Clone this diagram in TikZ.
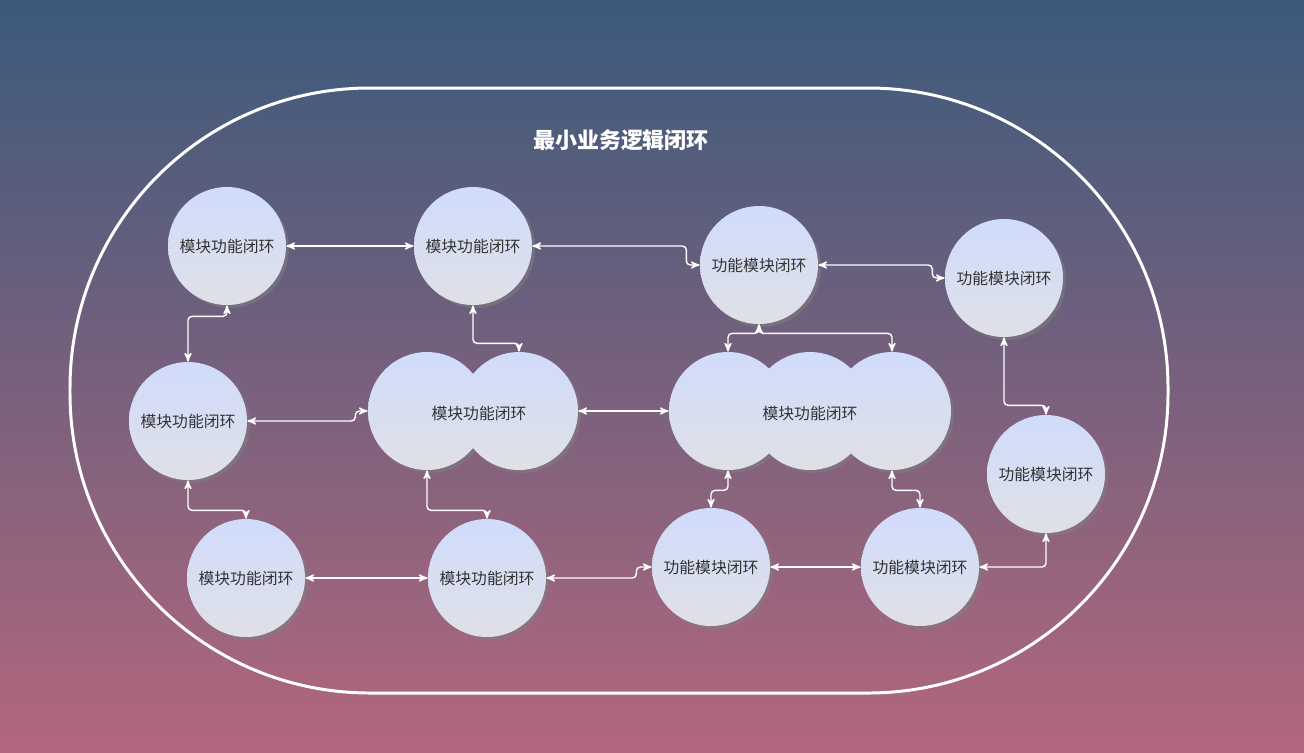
\documentclass[tikz,border=0pt]{standalone}
\usepackage{fontspec}
\newfontfamily\cjk{Noto Sans CJK SC}
\usetikzlibrary{shapes,arrows,shadows}
\definecolor{bgtop}{HTML}{3B5A7C}
\definecolor{bgbot}{HTML}{B3677E}
\definecolor{ctop}{HTML}{D0DCFC}
\definecolor{cbot}{HTML}{E0E0E6}
\definecolor{ctext}{HTML}{333333}
\tikzset{
	loop/.style={circle, minimum size=2.36cm, inner sep=0pt, top color=ctop, bottom color=cbot,
		drop shadow={shadow xshift=0.06cm, shadow yshift=-0.06cm, opacity=0.5},
		font=\cjk\fontsize{9}{10}\selectfont, text=ctext},
	lbl/.style={font=\cjk\fontsize{9}{10}\selectfont, text=ctext},
	link/.style={<->, >=stealth', white, thick, rounded corners=0.08cm}
}
\begin{document}
\begin{tikzpicture}[x=0.02cm, y=-0.02cm]
		\shade[top color=bgtop, bottom color=bgbot] (0,0) rectangle (1304,752);
		\useasboundingbox (0,0) rectangle (1304,752);
		\draw[white, line width=1.7pt, rounded corners=6cm] (70,88) rectangle (1168,693);
		\node[white, font=\cjk\bfseries\fontsize{12.5}{14}\selectfont] (title) at (621,140) {最小业务逻辑闭环};
		% top row
		\node[loop] (a1) at (227,246) {模块功能闭环};
		\node[loop] (a2) at (473,246) {模块功能闭环};
		\node[loop] (a3) at (759,265) {功能模块闭环};
		\node[loop] (a4) at (1004,278) {功能模块闭环};
		% middle row
		\node[loop] (b1) at (188,421) {模块功能闭环};
		\node[loop] (b2a) at (427,411) {};
		\node[loop] (b2b) at (519,411) {};
		\node[lbl] (b2) at (479,413) {模块功能闭环};
		\node[loop] (b3a) at (728,411) {};
		\node[loop] (b3b) at (810,411) {};
		\node[loop] (b3c) at (892,411) {};
		\node[lbl] (b3) at (810,413) {模块功能闭环};
		\node[loop] (b4) at (1046,474) {功能模块闭环};
		% bottom row
		\node[loop] (c1) at (246,578) {模块功能闭环};
		\node[loop] (c2) at (487,578) {模块功能闭环};
		\node[loop] (c3) at (711,567) {功能模块闭环};
		\node[loop] (c4) at (920,567) {功能模块闭环};
		% links
		\draw[link] (a1.east) -- (a2.west);
		\draw[link] (a2.east) -- ++(154,0) |- (a3.west);
		\draw[link] (a3.east) -- ++(114,0) |- (a4.west);
		\draw[link] (a1.south) -- ++(0,11) -| (b1.north);
		\draw[link] (a2.south) -- ++(0,38) -| (b2b.north);
		\draw[link] (a3.south) -- ++(0,9) -| (b3a.north);
		\draw[link] (a3.south) -- ++(0,9) -| (b3c.north);
		\draw[link] (a4.south) -- ++(0,68) -| (b4.north);
		\draw[link] (b1.east) -- ++(108,0) |- (b2a.west);
		\draw[link] (b2b.east) -- (b3a.west);
		\draw[link] (b1.south) -- ++(0,30) -| (c1.north);
		\draw[link] (b2a.south) -- ++(0,40) -| (c2.north);
		\draw[link] (b3a.south) -- ++(0,20) -| (c3.north);
		\draw[link] (b3c.south) -- ++(0,20) -| (c4.north);
		\draw[link] (c1.east) -- (c2.west);
		\draw[link] (c2.east) -- ++(90,0) |- (c3.west);
		\draw[link] (c3.east) -- (c4.west);
		\draw[link] (c4.east) -| (b4.south);
\end{tikzpicture}
\end{document}
